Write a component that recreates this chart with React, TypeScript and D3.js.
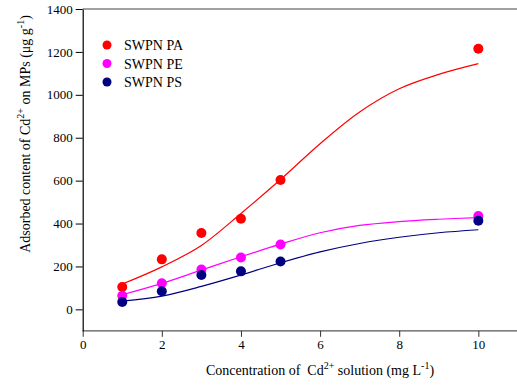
import React, { useRef, useEffect } from "react";
import * as d3 from "d3";

// measured points
const conc = [1, 2, 3, 4, 5, 10];
const paValues = [104, 233, 356, 422, 603, 1215];
const peValues = [63, 122, 186, 242, 302, 435];
const psValues = [34, 84, 160, 177, 223, 413];

// fitted curves
const fitX = [1, 2, 3, 4, 5, 6, 7, 8, 9, 10];
const paFit = [118, 198, 298, 447, 605, 772, 920, 1028, 1095, 1145];
const peFit = [68, 121, 183, 245, 304, 357, 391, 409, 420, 428];
const psFit = [38, 62, 107, 160, 217, 268, 307, 336, 357, 371];

const xTicks = [0, 2, 4, 6, 8, 10];
const yTicks = [0, 200, 400, 600, 800, 1000, 1200, 1400];

const series = [
  { name: "SWPN PA", color: "#ff0000", pts: paValues, fit: paFit },
  { name: "SWPN PE", color: "#ff00ff", pts: peValues, fit: peFit },
  { name: "SWPN PS", color: "#000080", pts: psValues, fit: psFit },
];

const App = () => {
  const svgRef = useRef<SVGSVGElement>(null);

  useEffect(() => {
    const svg = d3.select(svgRef.current);
    svg.selectAll("*").remove();

    const x = d3.scaleLinear().domain([0, 11]).range([82.7, 517.9]);
    const y = d3.scaleLinear().domain([-100, 1400]).range([330.8, 9]);
    const font = "Liberation Serif, Times New Roman, serif";

    // frame
    svg.append("line").attr("x1", x(0)).attr("x2", 517).attr("y1", 9).attr("y2", 9)
      .attr("stroke", "#444").attr("stroke-width", 1.2);
    svg.append("line").attr("x1", x(0)).attr("x2", 517).attr("y1", y(-100)).attr("y2", y(-100))
      .attr("stroke", "#555").attr("stroke-width", 1.2);

    const xAxis = svg.append("g")
      .attr("transform", `translate(0,${y(-100)})`)
      .call(d3.axisBottom(x).tickValues(xTicks).tickFormat(d3.format("d")).tickSize(6).tickPadding(3));
    xAxis.select(".domain").remove();
    xAxis.selectAll("line").attr("stroke", "#333");
    xAxis.selectAll("text").attr("fill", "#000")
      .style("font-family", font).style("font-size", "13px");

    const yAxis = svg.append("g")
      .attr("transform", `translate(${x(0)},0)`)
      .call(d3.axisLeft(y).tickValues(yTicks).tickFormat(d3.format("d")).tickSize(7).tickPadding(3).tickSizeOuter(0));
    yAxis.select(".domain").attr("stroke", "#000").attr("stroke-width", 1.2);
    yAxis.selectAll("line").attr("stroke", "#000");
    yAxis.selectAll("text").attr("fill", "#000")
      .style("font-family", font).style("font-size", "13px");

    const line = d3.line<number>()
      .x((_, i) => x(fitX[i]))
      .y((d) => y(d))
      .curve(d3.curveCatmullRom.alpha(0.5));

    series.forEach((s) => {
      svg.append("path").datum(s.fit).attr("d", line)
        .attr("fill", "none").attr("stroke", s.color).attr("stroke-width", 1.2);
    });
    series.forEach((s) => {
      svg.append("g").selectAll("circle").data(s.pts).enter().append("circle")
        .attr("cx", (_, i) => x(conc[i]))
        .attr("cy", (d) => y(d))
        .attr("r", 5)
        .attr("fill", s.color);
    });

    // legend
    const lg = svg.append("g");
    series.forEach((s, i) => {
      lg.append("circle").attr("cx", 107).attr("cy", 45 + i * 18.5).attr("r", 4.5).attr("fill", s.color);
      lg.append("text").attr("x", 124).attr("y", 50 + i * 18.5)
        .style("font-family", font).style("font-size", "14px").text(s.name);
    });

    // axis titles
    const xt = svg.append("text").attr("x", 320).attr("y", 375)
      .attr("text-anchor", "middle").style("font-family", font).style("font-size", "14px");
    xt.append("tspan").text("Concentration of \u00a0Cd");
    xt.append("tspan").attr("font-size", 10).attr("dy", -6).text("2+");
    xt.append("tspan").attr("dy", 6).text(" solution (mg L");
    xt.append("tspan").attr("font-size", 10).attr("dy", -6).text("-1");
    xt.append("tspan").attr("dy", 6).text(")");

    const yt = svg.append("text").attr("transform", "translate(30,134) rotate(-90)")
      .attr("text-anchor", "middle").style("font-family", font).style("font-size", "14px");
    yt.append("tspan").text("Adsorbed content of Cd");
    yt.append("tspan").attr("font-size", 10).attr("dy", -6).text("2+");
    yt.append("tspan").attr("dy", 6).text(" on MPs (\u03bcg g");
    yt.append("tspan").attr("font-size", 10).attr("dy", -6).text("-1");
    yt.append("tspan").attr("dy", 6).text(")");
  }, []);

  return (
    <svg ref={svgRef} width={517} height={387}
      style={{ position: "absolute", left: 0, top: 0, background: "#fff" }} />
  );
};

export default App;
